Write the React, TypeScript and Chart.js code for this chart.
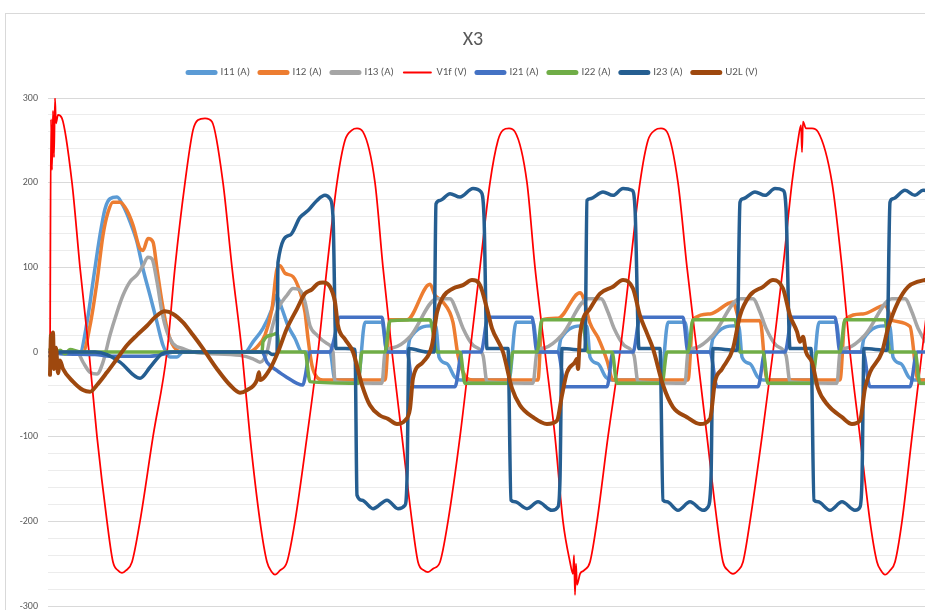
import React, { useEffect, useRef } from "react";
import { Chart, registerables } from "chart.js";
Chart.register(...registerables);

// [sample index, value]  (≈151 samples per 20 ms mains cycle)
const I11: [number, number][] = [
  [2,0],[32,0],[39,35],[45,83],[52,138],[57,169],[62,181],[69,183],[75,173],[82,154],[89,130],[95,98],[102,67],[109,35],[115,8],[122,-6],[129,-6],[135,0],
  [197,0],[205,12],[215,28],[224,51],[228,67],[234,51],[240,31],[247,16],[254,0],[282,0],[287,-33],[310,-33],[317,35],[334,35],[339,0],[359,0],[362,16],[385,31],[388,30],[391,-6],[399,-14],[407,-30],[412,-33],
  [461,-33],[468,35],[485,35],[490,0],[510,0],[513,16],[536,31],[539,30],[542,-6],[550,-14],[558,-30],[563,-33],
  [613,-33],[620,35],[637,35],[642,0],[662,0],[665,16],[688,31],[691,30],[694,-6],[702,-14],[710,-30],[715,-33],
  [764,-33],[771,35],[788,35],[793,0],[813,0],[816,16],[839,31],[842,30],[845,-6],[853,-14],[861,-30],[866,-33],[892,-33]
];
const I12: [number, number][] = [
  [2,0],[35,0],[42,31],[49,83],[55,138],[60,165],[65,177],[72,177],[79,167],[85,150],[92,122],[95,120],[100,134],[105,130],[109,98],[114,59],[119,28],[124,10],[129,2],[135,0],
  [200,0],[209,6],[217,20],[224,51],[229,98],[232,102],[237,93],[245,89],[252,71],[257,47],[260,16],[264,-16],[269,-30],[275,-33],[337,-33],[342,38],[359,38],[382,80],[387,67],[395,59],[405,35],[410,-4],[417,-28],[425,-33],
  [490,-33],[494,38],[510,40],[532,70],[535,65],[542,34],[550,17],[559,-10],[565,-33],
  [640,-33],[645,38],[662,45],[685,59],[692,37],[712,37],[719,-33],
  [792,-33],[797,38],[815,45],[837,55],[845,37],[862,30],[870,-33],[892,-33]
];
const I13: [number, number][] = [
  [2,0],[29,0],[35,-12],[42,-24],[49,-26],[55,-12],[62,20],[69,47],[75,67],[82,83],[89,91],[95,102],[100,112],[104,110],[109,83],[114,47],[119,24],[125,10],[135,4],[145,0],
  [192,-4],[205,-8],[212,-12],[219,0],[224,28],[230,51],[239,67],[245,75],[252,73],[257,59],[262,31],[269,20],[279,10],[285,0],[287,-35],[334,-37],[337,0],[345,5],[362,18],[389,63],[402,63],[409,47],[415,28],[425,8],[435,-4],[439,-35],
  [485,-37],[489,0],[497,5],[514,20],[540,63],[553,63],[560,47],[566,28],[576,8],[586,-4],[590,-35],
  [637,-37],[640,0],[648,5],[665,20],[692,63],[705,63],[712,47],[718,28],[728,8],[738,-4],[742,-35],
  [789,-37],[792,0],[800,5],[817,20],[844,63],[857,63],[864,47],[870,28],[880,8],[890,-4]
];
const V1F: [number, number][] = [
  [2,-20],[3,275],[4,215],[5,285],[6,230],[7,300],[8,270],[10,280],[14,276],
  [24,200],[32,100],[41,0],[49,-100],[59,-200],[65,-248],[70,-258],[74,-261],[78,-258],[84,-248],[92,-200],[105,-100],[119,0],[127,100],[137,200],[145,262],[150,274],[157,276],[164,272],
  [175,200],[184,100],[194,0],[202,-100],[212,-200],[219,-248],[224,-260],[227,-263],[232,-258],[239,-248],[247,-200],[259,-100],[270,0],[279,100],[289,200],[297,250],[304,262],[309,264],[315,260],
  [327,200],[335,100],[344,0],[354,-100],[364,-200],[370,-248],[376,-258],[380,-260],[385,-256],[392,-248],[400,-200],[412,-100],[422,0],[432,100],[442,200],[450,250],[455,262],[461,264],[467,260],
  [479,200],[487,100],[497,0],[507,-100],[515,-200],[522,-248],[525,-262],[526,-240],[527,-287],[528,-250],[529,-275],[532,-262],[536,-258],[542,-248],[549,-200],[560,-100],[572,0],[582,100],[592,200],[600,250],[607,262],[613,264],[619,260],
  [630,200],[639,100],[649,0],[659,-100],[669,-200],[675,-248],[680,-258],[685,-262],[690,-258],[695,-248],[702,-200],[714,-100],[725,0],[735,100],[744,200],[750,250],[753,268],[754,236],[755,272],[758,264],[764,264],[770,260],
  [784,200],[794,100],[802,0],[812,-100],[822,-200],[829,-248],[833,-258],[837,-263],[842,-258],[847,-248],[854,-200],[864,-100],[874,0],[884,100],[894,200]
];
const I21: [number, number][] = [
  [2,0],[12,-2],[47,-3],[62,-5],[102,-5],[117,-2],[127,0],[214,0],[219,-12],[229,-22],[239,-30],[249,-37],[255,-39],[257,-30],[262,0],[282,0],[285,10],[292,41],[334,41],[339,0],[359,0],[365,-41],[407,-41],[414,0],[433,0],[440,41],[484,41],[489,0],[510,0],[517,-41],[559,-41],[565,0],[585,0],[592,41],[635,41],[640,0],[662,0],[669,-41],[710,-41],[717,0],[737,0],[744,41],[787,41],[792,0],[815,0],[822,-41],[862,-41],[869,0],[892,0]
];
const I22: [number, number][] = [
  [2,3],[7,-3],[12,2],[17,-2],[22,3],[32,0],[214,0],[215,12],[224,20],[229,22],[232,0],[257,0],[262,-35],[310,-37],[314,0],[337,0],[342,37],[382,38],[389,0],[412,0],[417,-37],[460,-37],[465,0],[489,0],[494,38],[534,38],[540,0],[564,0],[569,-37],[614,-37],[619,0],[640,0],[645,38],[687,38],[692,0],[715,0],[720,-37],[764,-37],[769,0],[792,0],[797,38],[837,38],[842,0],[867,0],[872,-37],[892,-37]
];
const I23: [number, number][] = [
  [2,-5],[12,0],[47,0],[59,-3],[72,-12],[92,-31],[102,-18],[114,-2],[122,0],[220,0],[224,-3],[229,-2],[230,106],[242,138],[252,159],[260,167],[269,179],[277,185],[282,181],[285,160],[288,4],[297,4],[307,3],
  [309,-169],[314,-175],[325,-185],[339,-175],[350,-185],[357,-181],[359,-150],[361,4],[379,0],[386,0],[388,175],[392,179],[402,187],[412,183],[425,193],[433,189],[436,160],[439,4],[460,4],
  [463,-175],[467,-177],[479,-185],[490,-177],[504,-187],[510,-183],[512,-150],[514,4],[537,2],[539,179],[542,181],[555,189],[565,185],[575,193],[584,191],[587,170],[591,4],[612,4],
  [615,-175],[619,-177],[630,-187],[642,-177],[655,-187],[660,-183],[663,-150],[665,4],[689,2],[692,177],[695,181],[707,189],[717,185],[727,193],[735,191],[738,170],[742,4],[763,4],
  [766,-175],[770,-177],[782,-187],[794,-177],[807,-187],[812,-183],[814,-150],[816,4],[839,2],[842,177],[845,181],[857,191],[867,185],[875,191],[887,189]
];
const U2L: [number, number][] = [
  [2,-27],[3,20],[4,-15],[5,23],[6,-20],[8,5],[10,-25],[12,-10],[15,-20],[25,-35],[35,-45],[42,-47],[49,-39],[59,-24],[69,-8],[79,8],[89,20],[99,31],[107,41],[117,48],[125,45],[135,35],[145,20],[155,4],[169,-20],[182,-39],[192,-48],[199,-45],[209,-33],[211,-24],[212,-33],[222,-20],[230,0],[239,28],[249,51],[257,69],[264,74],[270,81],[275,82],[282,77],[287,59],[290,31],[297,15],[305,0],
  [314,-39],[322,-63],[332,-75],[340,-79],[349,-85],[357,-81],[362,-67],[365,-31],[375,-12],[384,8],[389,47],[395,65],[405,75],[415,79],[424,85],[432,79],[439,51],[444,28],[455,0],
  [464,-43],[472,-63],[485,-77],[499,-85],[509,-81],[514,-51],[519,-24],[527,-12],[529,-8],[530,-20],[532,20],[542,51],[552,69],[565,77],[575,85],[585,75],[592,43],[599,22],[605,4],
  [615,-39],[625,-65],[639,-77],[652,-85],[662,-79],[667,-35],[674,-20],[685,4],[692,43],[702,67],[715,77],[725,85],[735,75],[742,43],[749,24],[752,12],[755,18],[758,0],[764,-12],
  [770,-43],[780,-63],[794,-77],[804,-85],[812,-81],[817,-43],[822,-24],[834,0],[840,28],[850,59],[860,77],[870,83],[877,85],[890,88]
];

const SERIES = [
  { label: "I11 (A)", data: I11, color: "#5B9BD5", width: 3.5 },
  { label: "I12 (A)", data: I12, color: "#ED7D31", width: 3.5 },
  { label: "I13 (A)", data: I13, color: "#A5A5A5", width: 3.5 },
  { label: "V1f (V)", data: V1F, color: "#FF0000", width: 1.75 },
  { label: "I21 (A)", data: I21, color: "#4472C4", width: 3.5 },
  { label: "I22 (A)", data: I22, color: "#70AD47", width: 3.5 },
  { label: "I23 (A)", data: I23, color: "#255E91", width: 3.5 },
  { label: "U2L (V)", data: U2L, color: "#9E480E", width: 4 },
];

const FONT = 'Calibri, Carlito, Lato, "Open Sans", sans-serif';

export default function App() {
  const ref = useRef<HTMLCanvasElement>(null);
  useEffect(() => {
    const n = SERIES.length;
    const baseLabels = (Chart.defaults as any).plugins.legend.labels.generateLabels;
    const chart = new Chart(ref.current!, {
      type: "line",
      data: {
        datasets: SERIES.map((s, i) => ({
          label: s.label,
          data: s.data.map(([x, y]) => ({ x, y })),
          borderColor: s.color,
          backgroundColor: s.color,
          borderWidth: s.width,
          borderCapStyle: "round",
          borderJoinStyle: "round",
          pointRadius: 0,
          cubicInterpolationMode: "monotone",
          fill: false,
          order: n - i,
        })),
      },
      options: {
        responsive: false,
        animation: false,
        events: [],
        layout: { padding: { left: 0, right: 11, top: 0, bottom: 28 } },
        scales: {
          x: {
            type: "linear",
            position: "top",
            min: 0,
            max: 892,
            ticks: { display: false },
            grid: { display: false },
            border: { display: false },
            afterFit: (s: any) => { s.height = 10; },
          },
          y: {
            min: -300,
            max: 300,
            afterFit: (s: any) => { s.width = 42; },
            border: { display: false },
            grid: {
              drawTicks: false,
              color: (c: any) => (c.tick && c.tick.value % 100 === 0 ? "#d9d9d9" : "#ececec"),
              lineWidth: 1,
            },
            ticks: {
              stepSize: 20,
              autoSkip: false,
              padding: 10,
              color: "#595959",
              font: { family: FONT, size: 10 },
              callback: (v: any) => (Number(v) % 100 === 0 ? String(v) : ""),
            },
          },
        },
        plugins: {
          title: {
            display: true,
            text: "X3",
            color: "#595959",
            font: { family: FONT, size: 20, weight: "normal" },
            padding: { top: 14, bottom: 5 },
          },
          legend: {
            display: true,
            position: "top",
            labels: {
              usePointStyle: true,
              pointStyle: "line",
              pointStyleWidth: 27,
              color: "#595959",
              font: { family: FONT, size: 11 },
              padding: 10,
              sort: (a: any, b: any) => a.datasetIndex - b.datasetIndex,
              generateLabels: (c: any) =>
                baseLabels(c).map((l: any) => ({ ...l, lineWidth: l.datasetIndex === 3 ? 2 : 5, lineCap: "round" })),
            },
          },
          tooltip: { enabled: false },
        },
      } as any,
    });
    return () => chart.destroy();
  }, []);
  return (
    <div style={{ position: "fixed", left: 0, top: 0, width: 925, height: 610, overflow: "hidden", background: "#fff" }}>
      <div style={{ position: "absolute", left: 5, top: 13, width: 945, height: 620, border: "1px solid #d9d9d9", background: "#fff" }}>
        <canvas ref={ref} width={945} height={620} style={{ display: "block", width: 945, height: 620 }} />
      </div>
    </div>
  );
}
